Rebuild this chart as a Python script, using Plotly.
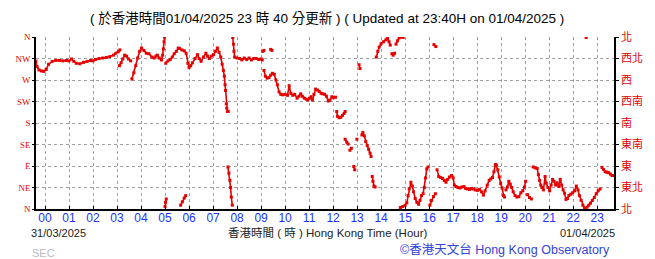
import plotly.graph_objects as go

# Wind direction (degrees) vs Hong Kong time (hours from 00:00 of 01/04/2025); None = break
hours = [
    -0.38, -0.33, -0.25, -0.15, -0.05, 0.05, 0.15, 0.3, 0.45, 0.6, 0.75, 0.9, 1.0, 1.1, 1.2, 1.3, 1.45,
    1.6, 1.75, 1.9, 2.0, 2.1, 2.25, 2.4, 2.55, 2.7, 2.85, 2.95, 3.05, 3.12, None,
    3.1, 3.17, 3.24, 3.32, 3.4, 3.48, 3.57, None,
    3.62, 3.7, 3.78, 3.86, 3.94, 4.02, 4.12, 4.22, 4.33, 4.45, 4.55, 4.62, 4.68, 4.76, 4.85, 4.9, 4.93, 4.96, 4.98, None,
    5.0, 5.02, 5.05, None,
    5.03, 5.12, 5.22, 5.3, 5.38, 5.47, 5.55, 5.6, 5.7, 5.8, 5.88, 5.95, 6.0, 6.07, 6.14, 6.25, 6.35, 6.42,
    6.5, 6.6, 6.7, 6.77, 6.84, 6.93, 7.02, 7.1, 7.18, 7.25, 7.32, 7.38, 7.43, 7.47, 7.5, 7.52, 7.55, 7.57, 7.6, 7.63, None,
    5.65, 5.72, 5.8, 5.86, None,
    7.62, 7.66, 7.7, 7.73, 7.76, 7.8, None,
    7.82, 7.85, 7.87, 7.9, 8.0, 8.1, 8.2, 8.3, 8.4, 8.5, 8.6, 8.7, 8.8, 8.9, 9.0, 9.05, None,
    9.07, 9.12, None,
    9.4, 9.45, None,
    9.12, 9.18, 9.25, 9.33, 9.4, 9.47, 9.55, 9.62, 9.68, 9.75, 9.82, 9.9, 10.0, 10.1, 10.17, 10.24, 10.32,
    10.4, 10.5, 10.58, 10.65, 10.72, 10.8, 10.88, 10.95, 11.02, 11.08, 11.14, 11.2, 11.27, 11.35, 11.42,
    11.5, 11.57, 11.65, 11.72, 11.8, 11.87, 11.95, 12.02, 12.1, None,
    12.15, 12.18, 12.25, 12.32, 12.39, 12.46, 12.5, None,
    12.5, 12.57, 12.62, None,
    12.7, 12.76, None,
    12.86, 12.9, None,
    12.99, None,
    13.08, 13.12, None,
    13.2, 13.24, 13.3, 13.36, 13.42, 13.48, 13.54, 13.58, None,
    13.63, 13.66, 13.7, 13.75, None,
    13.8, 13.86, 13.92, 14.0, 14.1, 14.2, 14.27, 14.33, 14.38, None,
    14.45, 14.5, 14.56, None,
    14.62, 14.68, 14.75, 14.85, 14.92, None,
    16.2, 16.28, None,
    14.8, 14.9, 15.0, 15.07, 15.12, 15.17, 15.24, 15.3, 15.35, 15.42, 15.49, 15.56, 15.62, 15.68, 15.75,
    15.8, 15.85, 15.9, 15.96, None,
    16.03, 16.1, 16.18, 16.26, None,
    16.33, 16.4, 16.48, 16.56, 16.63, 16.7, 16.77, 16.85, 16.93, 17.0, 17.05, 17.12, 17.2, 17.28, 17.36,
    17.45, 17.52, 17.6, 17.68, 17.76, 17.84, 17.92, 18.01, 18.1, 18.18, 18.26, 18.33, 18.42, 18.5, 18.57,
    18.64, 18.7, 18.76, 18.8, 18.86, 18.92, 18.98, 19.04, 19.1, 19.14, None,
    19.2, 19.26, 19.32, 19.38, 19.44, 19.5, 19.58, 19.66, 19.74, 19.82, 19.9, 19.97, 20.02, None,
    20.1, 20.18, 20.26, None,
    20.33, 20.42, 20.5, 20.55, 20.6, 20.65, 20.7, 20.76, 20.83, 20.88, 20.95, 21.02, 21.08, 21.14, 21.2,
    21.27, 21.33, 21.4, 21.46, 21.52, 21.58, 21.64, 21.7, 21.76, 21.82, 21.9, 21.98, 22.06, 22.13, 22.2,
    22.26, 22.33, 22.4, 22.47, 22.52, 22.58, 22.65, 22.72, 22.8, 22.88, 22.96, 23.04, 23.12, None,
    22.54, None,
    23.2, 23.26, 23.33, 23.4, 23.48, 23.55, 23.62, 23.66,
]
direction_deg = [
    309, 298, 291, 289, 288, 292, 303, 309, 311, 311, 310, 311, 310, 314, 309, 305, 304,
    307, 309, 311, 310, 313, 315, 316, 317, 319, 322, 326, 329, 333, None,
    300, 306, 314, 322, 320, 314, 310, None,
    272, 285, 300, 316, 330, 337, 332, 326, 325, 318, 316, 320, 322, 316, 312, 322, 335, 350, 360, None,
    5, 14, 21, None,
    305, 310, 313, 318, 325, 330, 337, 336, 333, 331, 326, 305, 296, 300, 306, 315, 323, 315,
    309, 318, 326, 320, 315, 320, 323, 330, 337, 328, 318, 303, 290, 278, 260, 248, 220, 211, 204, 204, None,
    8, 15, 23, 28, None,
    88, 75, 60, 45, 25, 8, None,
    359, 345, 330, 318, 316, 315, 312, 316, 313, 316, 312, 315, 315, 313, 314, 312, None,
    330, 332, None,
    334, 332, None,
    290, 278, 274, 275, 280, 284, 282, 270, 260, 245, 240, 239, 240, 238, 258, 242, 238,
    240, 232, 236, 241, 236, 232, 230, 228, 232, 235, 228, 240, 251, 249, 246,
    242, 241, 240, 236, 226, 228, 235, 233, 234, None,
    204, 194, 191, 192, 196, 200, 204, None,
    146, 140, 136, None,
    123, 127, None,
    89, 82, None,
    146, None,
    302, 294, None,
    155, 160, 153, 141, 133, 125, 117, 110, None,
    68, 58, 48, 46, None,
    318, 330, 339, 346, 350, 354, 358, 350, 343, None,
    325, 322, 326, None,
    345, 352, 358, 360, 359, None,
    344, 340, None,
    3, 5, 8, 13, 28, 42, 56, 48, 36, 22, 14, 10, 18, 28, 32,
    45, 65, 84, 88, None,
    8, 18, 26, 32, None,
    82, 68, 66, 64, 60, 56, 62, 67, 70, 65, 50, 47, 45, 44, 46,
    47, 43, 42, 41, 43, 42, 40, 39, 41, 36, 29, 38, 50, 60, 63,
    66, 78, 93, 92, 82, 67, 53, 44, 28, 25, None,
    40, 46, 58, 52, 45, 36, 28, 25, 26, 34, 38, 46, 58, None,
    30, 24, 21, None,
    88, 86, 85, 72, 60, 50, 45, 40, 68, 54, 45, 38, 50, 62, 58,
    50, 55, 47, 62, 50, 40, 33, 20, 22, 28, 31, 34, 38, 48, 40,
    28, 18, 8, 2, 0, 4, 8, 12, 18, 24, 32, 38, 42, None,
    359, None,
    87, 83, 78, 77, 76, 73, 70, 70,
]

hour_ticks = list(range(24))
hour_labels = [f"{h:02d}" for h in hour_ticks]
dir_ticks = [0, 45, 90, 135, 180, 225, 270, 315, 360]
dir_labels_en = ["N", "NE", "E", "SE", "S", "SW", "W", "NW", "N"]
dir_labels_zh = ["北", "東北", "東", "東南", "南", "西南", "西", "西北", "北"]

RED = "#e60000"
BLUE = "#2233ff"

fig = go.Figure()
fig.add_trace(go.Scatter(
    x=hours, y=direction_deg, mode="lines+markers",
    line=dict(color=RED, width=1.6),
    marker=dict(color=RED, size=3, symbol="square"),
    connectgaps=False, showlegend=False, hoverinfo="skip",
))
fig.add_trace(go.Scatter(
    x=[hours[0]], y=[direction_deg[0]], yaxis="y2", mode="markers",
    marker=dict(opacity=0), showlegend=False, hoverinfo="skip",
))

W, H = 655, 259
pl, pr, pt, pb = 36, 41, 37, 50
pw, ph = W - pl - pr, H - pt - pb

fig.update_layout(
    width=W, height=H,
    margin=dict(l=pl, r=pr, t=pt, b=pb),
    paper_bgcolor="white", plot_bgcolor="white",
    xaxis=dict(
        range=[-0.375, 23.7], tickvals=hour_ticks, ticktext=hour_labels,
        showgrid=True, gridcolor="#a0a0a0", griddash="dot", gridwidth=1,
        showline=True, linecolor="black", linewidth=1.5,
        ticks="inside", ticklen=3, tickcolor="black",
        ticklabelstandoff=-3,
        tickfont=dict(family="Liberation Sans, Arial", size=12, color=BLUE),
        zeroline=False, fixedrange=True,
    ),
    yaxis=dict(
        range=[0, 360], tickvals=dir_ticks, ticktext=dir_labels_en,
        showgrid=True, gridcolor="#a0a0a0", griddash="dot", gridwidth=1,
        showline=True, linecolor="black", linewidth=1.5,
        ticks="outside", ticklen=2, tickcolor="black",
        tickfont=dict(family="Liberation Serif, Times New Roman", size=9, color=RED),
        zeroline=False, fixedrange=True,
    ),
    yaxis2=dict(
        range=[0, 360], tickvals=dir_ticks, ticktext=dir_labels_zh,
        overlaying="y", side="right", showgrid=False,
        showline=True, linecolor="black", linewidth=1.5,
        ticks="outside", ticklen=3, tickcolor="black",
        tickfont=dict(family="Noto Sans CJK TC", size=11, color=RED),
        zeroline=False, fixedrange=True,
    ),
)


def px(x):
    return (x - pl) / pw


def py(y):
    return (H - pb - y) / ph


fig.add_annotation(text="( 於香港時間01/04/2025 23 時 40 分更新 ) ( Updated at 23:40H on 01/04/2025 )",
                   x=px(327), y=py(18), xref="paper", yref="paper", showarrow=False,
                   xanchor="center", yanchor="middle",
                   font=dict(family="Liberation Sans, Noto Sans CJK TC", size=13.5, color="black"))
fig.add_annotation(text="31/03/2025", x=px(29), y=py(233), xref="paper", yref="paper",
                   showarrow=False, xanchor="left", yanchor="middle",
                   font=dict(family="Liberation Sans, Arial", size=11, color="#222222"))
fig.add_annotation(text="香港時間 ( 時 ) Hong Kong Time (Hour)", x=px(328), y=py(233),
                   xref="paper", yref="paper", showarrow=False, xanchor="center", yanchor="middle",
                   font=dict(family="Liberation Sans, Noto Sans CJK TC", size=11.5, color="#222222"))
fig.add_annotation(text="01/04/2025", x=px(617), y=py(233), xref="paper", yref="paper",
                   showarrow=False, xanchor="right", yanchor="middle",
                   font=dict(family="Liberation Sans, Arial", size=11, color="#222222"))
fig.add_annotation(text="©香港天文台 Hong Kong Observatory", x=px(505), y=py(249),
                   xref="paper", yref="paper", showarrow=False, xanchor="center", yanchor="middle",
                   font=dict(family="Liberation Sans, Noto Sans CJK TC", size=12.5, color="#3344dd"))
fig.add_annotation(text="SEC", x=px(30), y=py(253), xref="paper", yref="paper",
                   showarrow=False, xanchor="left", yanchor="middle",
                   font=dict(family="Liberation Sans, Arial", size=11, color="#bbbbbb"))

fig.write_html("out.html")
